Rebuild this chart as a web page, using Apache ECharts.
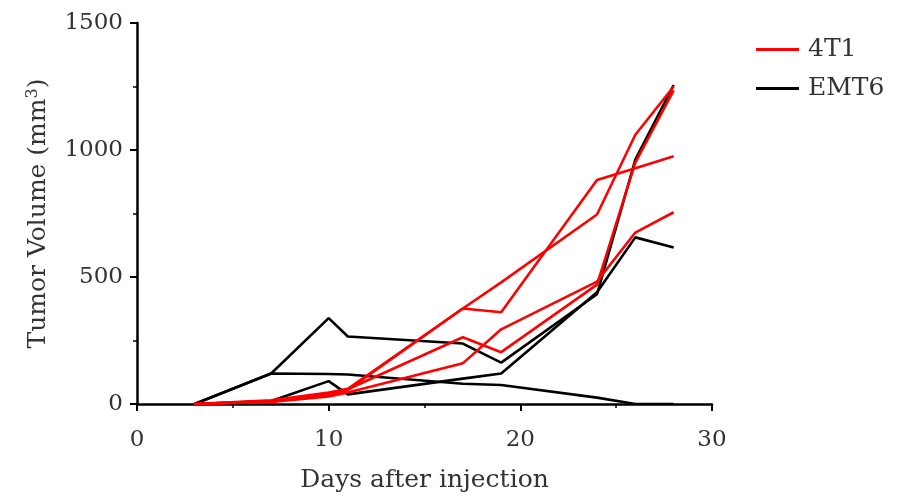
<!DOCTYPE html>
<html>
<head>
<meta charset="utf-8">
<script src="https://cdn.jsdelivr.net/npm/echarts@6/dist/echarts.min.js"></script>
<style>
  html, body { margin: 0; padding: 0; background: #fff; }
  #myChart { width: 899px; height: 498px; }
</style>
</head>
<body>
<div id="myChart"></div>
<script>
// measurement days
var days = [3, 7, 10, 11, 17, 19, 24, 26, 28]

// 4T1 mice (red)
var t4_1 = [0, 15, 45, 60, 376, 479, 746, 1060, 1250]
var t4_2 = [0, 12, 40, 55, 376, 361, 882, 928, 975]
var t4_3 = [0, 10, 35, 58, 263, 204, 470, 950, 1235]
var t4_4 = [0, 8, 30, 45, 160, 294, 482, 675, 755]

// EMT6 mice (black)
var emt_1 = [0, 120, 338, 266, 238, 163, 432, 962, 1256]
var emt_2 = [0, 12, 90, 38, 100, 120, 440, 656, 616]
var emt_3 = [0, 120, 118, 116, 80, 75, 25, 0, 0]

var xTicks = [0, 10, 20, 30]
var yTicks = [0, 500, 1000, 1500]

var serif = 'DejaVu Serif'

function pts (vals) {
  return days.map(function (d, i) { return [d, vals[i]] })
}

function mouse (name, color, vals) {
  return {
    name: name,
    type: 'line',
    symbol: 'none',
    data: pts(vals),
    lineStyle: { color: color, width: 2.6 },
    itemStyle: { color: color }
  }
}

var myChart = echarts.init(document.getElementById('myChart'))
myChart.setOption({
  animation: false,
  grid: { left: 137, right: 187, top: 23, bottom: 93 },
  legend: {
    data: ['4T1', 'EMT6'],
    orient: 'vertical',
    left: 751,
    top: 32,
    icon: 'rect',
    itemWidth: 43,
    itemHeight: 3,
    itemGap: 14,
    textStyle: { fontFamily: serif, fontSize: 25, color: '#333', padding: [0, 0, 0, 4] }
  },
  xAxis: {
    type: 'value',
    min: xTicks[0],
    max: xTicks[xTicks.length - 1],
    interval: 10,
    name: 'Days after injection',
    nameLocation: 'middle',
    nameGap: 64,
    nameTextStyle: { fontFamily: serif, fontSize: 25, color: '#333' },
    axisLine: { lineStyle: { color: '#000', width: 2.5 } },
    axisTick: { length: 7, lineStyle: { color: '#000', width: 2 } },
    minorTick: { show: true, splitNumber: 2, length: 4, lineStyle: { color: '#000', width: 1.5 } },
    splitLine: { show: false },
    axisLabel: { fontFamily: serif, fontSize: 23, color: '#333', margin: 25 }
  },
  yAxis: {
    type: 'value',
    min: yTicks[0],
    max: yTicks[yTicks.length - 1],
    interval: 500,
    name: '{a|Tumor Volume (mm}{s|3}{a|)}',
    nameLocation: 'middle',
    nameGap: 86,
    nameTextStyle: {
      rich: {
        a: { fontFamily: serif, fontSize: 25, color: '#333' },
        s: { fontFamily: serif, fontSize: 16, color: '#333', verticalAlign: 'top', padding: [0, 0, 10, 0] }
      }
    },
    axisLine: { show: true, lineStyle: { color: '#000', width: 2.5 } },
    axisTick: { show: true, length: 7, lineStyle: { color: '#000', width: 2 } },
    minorTick: { show: true, splitNumber: 2, length: 4, lineStyle: { color: '#000', width: 1.5 } },
    splitLine: { show: false },
    axisLabel: {
      fontFamily: serif, fontSize: 23, color: '#333', margin: 14,
      formatter: function (v) { return String(v) }
    }
  },
  series: [
    mouse('EMT6', '#000', emt_1),
    mouse('EMT6', '#000', emt_2),
    mouse('EMT6', '#000', emt_3),
    mouse('4T1', '#ff0000', t4_1),
    mouse('4T1', '#ff0000', t4_2),
    mouse('4T1', '#ff0000', t4_3),
    mouse('4T1', '#ff0000', t4_4)
  ]
})
window.onresize = myChart.resize
</script>
</body>
</html>
